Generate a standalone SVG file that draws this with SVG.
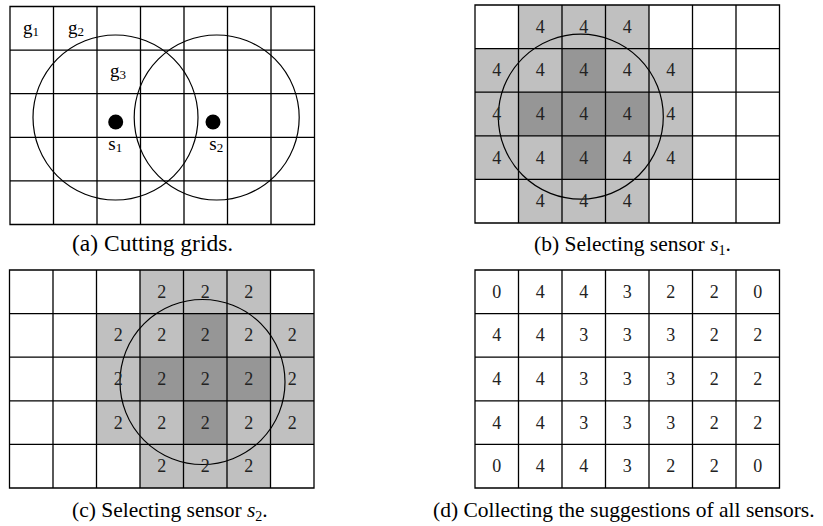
<svg xmlns="http://www.w3.org/2000/svg" xmlns:xlink="http://www.w3.org/1999/xlink" width="823" height="526" viewBox="0 0 823 526">
<style>
  .gl { stroke:#000; stroke-width:1.3; fill:none; }
  .circ { stroke:#000; stroke-width:1.2; fill:none; }
  .lt { fill:#c0c0c0; }
  .dk { fill:#969696; }
  .num { font-family:"Liberation Serif","Times New Roman",serif; font-size:18px; fill:#222; text-anchor:middle; }
  .lbl { font-family:"Liberation Serif","Times New Roman",serif; font-size:19px; fill:#000; }
  .cap { font-family:"Liberation Serif","Times New Roman",serif; font-size:21.5px; fill:#000; }
</style>
<defs>
  <path id="grid" class="gl" d="M0,0H304.5V218H0Z M43.5,0V218 M87,0V218 M130.5,0V218 M174,0V218 M217.5,0V218 M261,0V218 M0,43.6H304.5 M0,87.2H304.5 M0,130.8H304.5 M0,174.4H304.5"/>
</defs>
<rect width="823" height="526" fill="#fff"/>

<g id="panel-a">
  <g transform="translate(10,6.5)">
    <use xlink:href="#grid" href="#grid"/>
    <circle class="circ" cx="105.5" cy="111" r="82.5"/>
    <circle class="circ" cx="206.7" cy="111" r="82.5"/>
    <circle cx="105.7" cy="115.5" r="7.5" fill="#000"/>
    <circle cx="203" cy="115.5" r="7.5" fill="#000"/>
    <text class="lbl" x="13" y="27.2">g<tspan font-size="13" dy="2">1</tspan></text>
    <text class="lbl" x="58" y="27.2">g<tspan font-size="13" dy="2">2</tspan></text>
    <text class="lbl" x="100" y="70.5">g<tspan font-size="13" dy="2">3</tspan></text>
    <text class="lbl" x="98.3" y="143.5">s<tspan font-size="13" dy="2">1</tspan></text>
    <text class="lbl" x="199.3" y="143.5">s<tspan font-size="13" dy="2">2</tspan></text>
  </g>
  <text class="cap" x="72" y="251" style="font-size:23.5px">(a) Cutting grids.</text>
</g>

<g id="panel-b">
  <g transform="translate(475,5)">
    <rect class="lt" x="43.5" y="0" width="130.5" height="43.6"/>
    <rect class="lt" x="0" y="43.6" width="217.5" height="130.8"/>
    <rect class="lt" x="43.5" y="174.4" width="130.5" height="43.6"/>
    <rect class="dk" x="87" y="43.6" width="43.5" height="130.8"/>
    <rect class="dk" x="43.5" y="87.2" width="130.5" height="43.6"/>
    <use xlink:href="#grid" href="#grid"/>
    <circle class="circ" cx="105.8" cy="111.7" r="82.5"/>
    <text class="num" x="65.25" y="27.8">4</text><text class="num" x="108.75" y="27.8">4</text><text class="num" x="152.25" y="27.8">4</text>
    <text class="num" x="21.75" y="71.4">4</text><text class="num" x="65.25" y="71.4">4</text><text class="num" x="108.75" y="71.4">4</text><text class="num" x="152.25" y="71.4">4</text><text class="num" x="195.75" y="71.4">4</text>
    <text class="num" x="21.75" y="115">4</text><text class="num" x="65.25" y="115">4</text><text class="num" x="108.75" y="115">4</text><text class="num" x="152.25" y="115">4</text><text class="num" x="195.75" y="115">4</text>
    <text class="num" x="21.75" y="158.6">4</text><text class="num" x="65.25" y="158.6">4</text><text class="num" x="108.75" y="158.6">4</text><text class="num" x="152.25" y="158.6">4</text><text class="num" x="195.75" y="158.6">4</text>
    <text class="num" x="65.25" y="202.2">4</text><text class="num" x="108.75" y="202.2">4</text><text class="num" x="152.25" y="202.2">4</text>
  </g>
  <text class="cap" x="534" y="251">(b) Selecting sensor <tspan font-style="italic">s</tspan><tspan font-size="14" dy="4">1</tspan><tspan dy="-4">.</tspan></text>
</g>

<g id="panel-c">
  <g transform="translate(9.5,270)">
    <rect class="lt" x="130.5" y="0" width="130.5" height="43.6"/>
    <rect class="lt" x="87" y="43.6" width="217.5" height="130.8"/>
    <rect class="lt" x="130.5" y="174.4" width="130.5" height="43.6"/>
    <rect class="dk" x="174" y="43.6" width="43.5" height="130.8"/>
    <rect class="dk" x="130.5" y="87.2" width="130.5" height="43.6"/>
    <use xlink:href="#grid" href="#grid"/>
    <circle class="circ" cx="193" cy="112" r="82.5"/>
    <text class="num" x="152.25" y="27.8">2</text><text class="num" x="195.75" y="27.8">2</text><text class="num" x="239.25" y="27.8">2</text>
    <text class="num" x="108.75" y="71.4">2</text><text class="num" x="152.25" y="71.4">2</text><text class="num" x="195.75" y="71.4">2</text><text class="num" x="239.25" y="71.4">2</text><text class="num" x="282.75" y="71.4">2</text>
    <text class="num" x="108.75" y="115">2</text><text class="num" x="152.25" y="115">2</text><text class="num" x="195.75" y="115">2</text><text class="num" x="239.25" y="115">2</text><text class="num" x="282.75" y="115">2</text>
    <text class="num" x="108.75" y="158.6">2</text><text class="num" x="152.25" y="158.6">2</text><text class="num" x="195.75" y="158.6">2</text><text class="num" x="239.25" y="158.6">2</text><text class="num" x="282.75" y="158.6">2</text>
    <text class="num" x="152.25" y="202.2">2</text><text class="num" x="195.75" y="202.2">2</text><text class="num" x="239.25" y="202.2">2</text>
  </g>
  <text class="cap" x="72" y="516.5">(c) Selecting sensor <tspan font-style="italic">s</tspan><tspan font-size="14" dy="4">2</tspan><tspan dy="-4">.</tspan></text>
</g>

<g id="panel-d">
  <g transform="translate(475,270)">
    <use xlink:href="#grid" href="#grid"/>
    <text class="num" x="21.75" y="27.8">0</text><text class="num" x="65.25" y="27.8">4</text><text class="num" x="108.75" y="27.8">4</text><text class="num" x="152.25" y="27.8">3</text><text class="num" x="195.75" y="27.8">2</text><text class="num" x="239.25" y="27.8">2</text><text class="num" x="282.75" y="27.8">0</text>
    <text class="num" x="21.75" y="71.4">4</text><text class="num" x="65.25" y="71.4">4</text><text class="num" x="108.75" y="71.4">3</text><text class="num" x="152.25" y="71.4">3</text><text class="num" x="195.75" y="71.4">3</text><text class="num" x="239.25" y="71.4">2</text><text class="num" x="282.75" y="71.4">2</text>
    <text class="num" x="21.75" y="115">4</text><text class="num" x="65.25" y="115">4</text><text class="num" x="108.75" y="115">3</text><text class="num" x="152.25" y="115">3</text><text class="num" x="195.75" y="115">3</text><text class="num" x="239.25" y="115">2</text><text class="num" x="282.75" y="115">2</text>
    <text class="num" x="21.75" y="158.6">4</text><text class="num" x="65.25" y="158.6">4</text><text class="num" x="108.75" y="158.6">3</text><text class="num" x="152.25" y="158.6">3</text><text class="num" x="195.75" y="158.6">3</text><text class="num" x="239.25" y="158.6">2</text><text class="num" x="282.75" y="158.6">2</text>
    <text class="num" x="21.75" y="202.2">0</text><text class="num" x="65.25" y="202.2">4</text><text class="num" x="108.75" y="202.2">4</text><text class="num" x="152.25" y="202.2">3</text><text class="num" x="195.75" y="202.2">2</text><text class="num" x="239.25" y="202.2">2</text><text class="num" x="282.75" y="202.2">0</text>
  </g>
  <text class="cap" x="433" y="516.5">(d) Collecting the suggestions of all sensors.</text>
</g>
</svg>
